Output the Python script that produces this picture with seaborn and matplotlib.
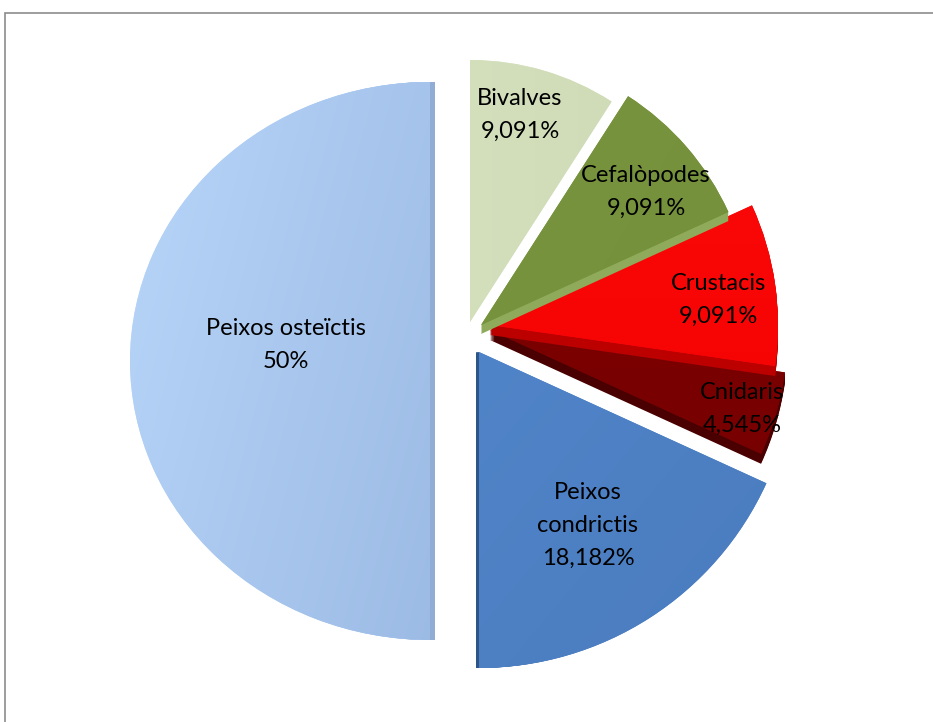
import numpy as np
import matplotlib
matplotlib.use("Agg")
import matplotlib.pyplot as plt
import seaborn as sns
from matplotlib.patches import Wedge
from matplotlib.colors import to_rgb
import matplotlib.transforms as mtransforms

# ---- data ----
categories = ["Bivalves", "Cefalòpodes", "Crustacis", "Cnidaris",
              "Peixos\ncondrictis", "Peixos osteïctis"]
values = [9.091, 9.091, 9.091, 4.545, 18.182, 50.0]
pct_labels = ["9,091%", "9,091%", "9,091%", "4,545%", "18,182%", "50%"]

# ---- style ----
light_cols = ["#DCE6C8", "#7C9842", "#FF0A0A", "#860000", "#568DD2", "#BCD9FC"]
dark_cols = ["#CBD8B0", "#728E38", "#F00000", "#700000", "#4A7BBE", "#86A6D4"]
side_cols = ["#C5D1A8", "#8FAA5A", "#BC0000", "#4A0000", "#2E5588", "#92ADD5"]
grad_angle = [0, -30, -90, -90, -40, -15]

W, H = 933, 722
sns.set_theme(style="white")
plt.rcParams['font.family'] = ['Lato', 'DejaVu Sans']

fig = plt.figure(figsize=(W / 100, H / 100), dpi=100)
ax = fig.add_axes([0, 0, 1, 1])


def P(x, y):
    return (x, H - y)


# per-slice placement (screen px) emulating the exploded 3-D perspective
apex = [(470, 322), (481, 325), (490, 325), (490, 330), (479, 352), (430, 361)]
radii = [262, 272, 288, 298, 316, 300]
yscale = [1, 1, 1, 1, 1, 0.93]
depth = [(0, 0), (0, 9), (0, 10), (0, 10), (-3, 0), (5, 0)]
zord = [3, 4, 3.6, 3.2, 3.8, 2]
label_pos = [(520, 115), (646, 192), (718, 300), (742, 409), (588, 525), (286, 345)]

wedges, _ = ax.pie(values, startangle=90, counterclock=False, radius=290,
                   center=P(460, 345), frame=True,
                   wedgeprops=dict(linewidth=0))


def add_gradient(w, c1, c2, ang, z):
    cx, cy = w.center
    r = w.r
    n = 200
    xs = np.linspace(-1, 1, n)
    X, Y = np.meshgrid(xs, xs)
    a = np.deg2rad(ang)
    t = (X * np.cos(a) + Y * np.sin(a) + 1.414) / 2.828
    t = np.clip(t, 0, 1)[..., None]
    img = (1 - t) * np.array(to_rgb(c1)) + t * np.array(to_rgb(c2))
    im = ax.imshow(img, extent=(cx - r, cx + r, cy - r, cy + r), origin='lower',
                   interpolation='bilinear', aspect='auto', zorder=z + 0.01)
    im.set_clip_path(w)


for i, w in enumerate(wedges):
    cx0, cy0 = P(*apex[i])
    w.set_center((cx0, cy0))
    w.set_radius(radii[i])
    w.set_facecolor(light_cols[i])
    w.set_zorder(zord[i])
    # vertical squash about the apex (3-D tilt)
    tr = mtransforms.Affine2D().translate(-cx0, -cy0).scale(1, yscale[i]) \
        .translate(cx0, cy0) + ax.transData
    w.set_transform(tr)
    dx, dy = depth[i]
    steps = max(abs(dx), abs(dy))
    for k in range(1, steps + 1):
        cx, cy = P(apex[i][0] + dx * k / steps, apex[i][1] + dy * k / steps)
        trk = mtransforms.Affine2D().translate(-cx, -cy).scale(1, yscale[i]) \
            .translate(cx, cy) + ax.transData
        ax.add_patch(Wedge((cx, cy), radii[i], w.theta1, w.theta2,
                           facecolor=side_cols[i], edgecolor='none',
                           zorder=zord[i] - 0.05, transform=trk))
    add_gradient(w, light_cols[i], dark_cols[i], grad_angle[i], zord[i])
    lx, ly = P(*label_pos[i])
    ax.text(lx, ly, f"{categories[i]}\n{pct_labels[i]}", ha='center', va='center',
            fontsize=17, color='black', linespacing=1.7, zorder=10,
            family=['Lato', 'DejaVu Sans'])

# chart border (top and left edges)
ax.plot([4.5, 4.5, W], [0, H - 12.5, H - 12.5], color='#8C8C8C', lw=1.2,
        zorder=1, solid_joinstyle='miter')

ax.set_xlim(0, W)
ax.set_ylim(0, H)
ax.set_aspect('auto')
ax.axis('off')
fig.savefig("out.png", dpi=100, facecolor='white')
